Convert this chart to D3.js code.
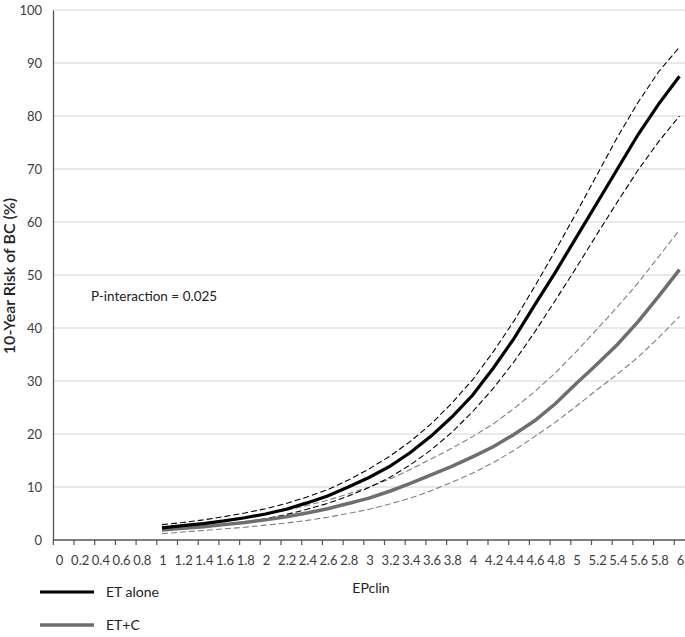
<!DOCTYPE html>
<html><head><meta charset="utf-8">
<script src="https://cdn.jsdelivr.net/npm/d3@7"></script>
<style>body{margin:0;background:#fff}svg{display:block}text{font-family:Lato,"Open Sans",sans-serif}</style>
</head><body>
<svg id="c" width="685" height="637"></svg>
<script>
const xTicks = d3.range(0, 31).map(i => +(i * 0.2).toFixed(1));
const yTicks = [0,10,20,30,40,50,60,70,80,90,100];
const xs = d3.range(0, 26).map(i => +(1 + i * 0.2).toFixed(1));
const etAlone      = [2.3,2.7,3.1,3.6,4.2,4.9,5.8,7.0,8.3,10.0,11.8,13.9,16.5,19.6,23.2,27.3,32.4,38.0,44.3,50.5,57.0,63.5,70.0,76.5,82.3,87.5];
const etAloneUpper = [2.9,3.3,3.8,4.4,5.1,5.9,6.9,8.1,9.5,11.3,13.4,15.8,18.6,21.9,25.8,30.2,35.5,41.3,47.8,54.6,61.6,68.8,76.0,82.6,88.4,93.0];
const etAloneLower = [1.8,2.1,2.5,2.9,3.4,4.0,4.8,5.8,6.9,8.3,9.9,11.8,14.2,17.0,20.3,24.2,28.6,33.6,39.2,45.2,51.3,57.6,63.8,69.8,75.2,80.0];
const etC          = [1.9,2.2,2.5,2.9,3.3,3.8,4.4,5.1,5.9,6.9,7.9,9.2,10.7,12.3,13.9,15.7,17.6,19.9,22.5,25.7,29.5,33.1,36.9,41.2,46.0,51.0];
const etCUpper     = [2.4,2.8,3.2,3.7,4.2,4.9,5.6,6.5,7.5,8.7,10.0,11.5,13.3,15.3,17.3,19.5,21.9,24.8,28.0,31.5,35.5,39.7,44.0,48.5,53.5,58.5];
const etCLower     = [1.2,1.5,1.8,2.1,2.4,2.8,3.2,3.7,4.3,5.0,5.8,6.8,7.9,9.3,10.9,12.6,14.6,16.9,19.5,22.2,25.2,28.3,31.3,34.5,38.2,42.2];
const legendLabels = ["ET alone", "ET+C"];
const annotation = "P-interaction = 0.025";
const xTitle = "EPclin", yTitle = "10-Year Risk of BC (%)";

const svg = d3.select("#c");
const x = d3.scaleLinear().domain([0, 6]).range([58.5, 679.5]);
const y = d3.scaleLinear().domain([0, 100]).range([540, 10]);
const left = 53, right = 685;

// gridlines
svg.append("g").selectAll("line").data(yTicks.filter(d => d > 0)).join("line")
  .attr("x1", left).attr("x2", right).attr("y1", d => y(d)).attr("y2", d => y(d))
  .attr("stroke", "#d4d4d4").attr("stroke-width", 1.2);

// y axis
const yAxis = svg.append("g").attr("transform", `translate(${left},0)`)
  .call(d3.axisLeft(y).tickValues(yTicks).tickSize(0).tickPadding(11));
yAxis.select(".domain").attr("stroke", "#555").attr("stroke-width", 1.3);
yAxis.selectAll("text").attr("font-size", 13).attr("fill", "#404040").style("font-family", "Lato, sans-serif");

// x axis
const xAxis = svg.append("g").attr("transform", `translate(0,540)`);
xAxis.append("line").attr("x1", left).attr("x2", right).attr("y1", 0).attr("y2", 0)
  .attr("stroke", "#555").attr("stroke-width", 1.6);
xAxis.selectAll("line.tk").data(xTicks).join("line").attr("class", "tk")
  .attr("x1", d => x(d) - 5.2).attr("x2", d => x(d) - 5.2).attr("y1", 0).attr("y2", 5)
  .attr("stroke", "#555").attr("stroke-width", 1.2);
xAxis.selectAll("text").data(xTicks).join("text")
  .attr("x", d => x(d) + 1).attr("y", 25).attr("text-anchor", "middle")
  .attr("font-size", 13).attr("fill", "#404040").text(d => d3.format("")(d));

// lines
const line = d3.line().x((d, i) => x(xs[i])).y(d => y(d));
const series = [
  {v: etCLower, c: "#7f7f7f", w: 1.1, dash: "6,3"},
  {v: etCUpper, c: "#7f7f7f", w: 1.1, dash: "6,3"},
  {v: etAloneLower, c: "#000", w: 1.1, dash: "6,3"},
  {v: etAloneUpper, c: "#000", w: 1.1, dash: "6,3"},
  {v: etC, c: "#6e6e6e", w: 3.5, dash: null},
  {v: etAlone, c: "#000", w: 3.2, dash: null}
];
svg.append("g").selectAll("path").data(series).join("path")
  .attr("d", d => line(d.v)).attr("fill", "none")
  .attr("stroke", d => d.c).attr("stroke-width", d => d.w)
  .attr("stroke-dasharray", d => d.dash);

// annotation
svg.append("text").attr("x", 91).attr("y", 301).attr("font-size", 13.5).attr("fill", "#222").text(annotation);

// titles
svg.append("text").attr("x", 371).attr("y", 593).attr("text-anchor", "middle")
  .attr("font-size", 14).attr("fill", "#222").text(xTitle);
svg.append("text").attr("transform", "translate(15,276) rotate(-90)").attr("text-anchor", "middle")
  .attr("font-size", 16).attr("font-weight", 600).attr("fill", "#222").text(yTitle);

// legend
const leg = svg.append("g");
const legStyles = [{c: "#000", w: 3, yy: 592}, {c: "#6e6e6e", w: 3.5, yy: 625}];
legStyles.forEach((s, i) => {
  leg.append("line").attr("x1", 40).attr("x2", 94).attr("y1", s.yy).attr("y2", s.yy)
    .attr("stroke", s.c).attr("stroke-width", s.w);
  leg.append("text").attr("x", 106).attr("y", s.yy + 5).attr("font-size", 14).attr("fill", "#222").text(legendLabels[i]);
});
</script>
</body></html>
